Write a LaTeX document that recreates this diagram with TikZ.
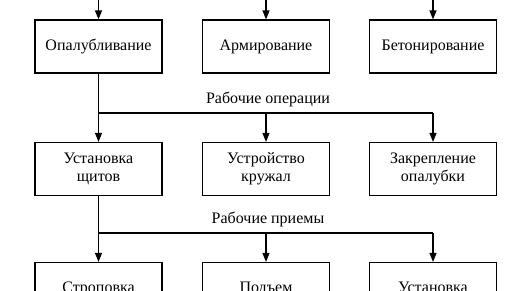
\documentclass[tikz,border=0pt]{standalone}
\usepackage{fontspec}
\setmainfont{Liberation Serif}
\usetikzlibrary{arrows.meta}
\begin{document}
\begin{tikzpicture}[x=1pt,y=-1pt,
  box/.style={draw, line width=1.2pt, minimum width=127pt, minimum height=53pt, align=center, inner sep=0pt, font=\fontsize{16}{18}\selectfont},
  one/.style={text height=11pt, text depth=3.5pt},
  lbl/.style={inner sep=0pt, font=\fontsize{16}{18}\selectfont},
  arr/.style={-{Triangle[length=9pt,width=7pt]}, line width=1.2pt},
  ln/.style={line width=1.2pt}]
\useasboundingbox (0,0) rectangle (516,290);
\clip (0,0) rectangle (516,290);
% row 1
\node[box,one] (a1) at (98.5,46.5) {Опалубливание};
\node[box,one] (a2) at (266,46.5) {Армирование};
\node[box,one] (a3) at (433,46.5) {Бетонирование};
% row 2
\node[box] (b1) at (98.5,169) {Установка\\щитов};
\node[box] (b2) at (266,169) {Устройство\\кружал};
\node[box] (b3) at (433,169) {Закрепление\\опалубки};
% row 3
\node[box,one] (c1) at (98.5,289) {Строповка};
\node[box,one] (c2) at (266,289) {Подъем};
\node[box,one] (c3) at (433,289) {Установка};
% incoming arrows
\coordinate (t1) at (98.5,-5);
\coordinate (t2) at (266,-5);
\coordinate (t3) at (433,-5);
\draw[arr] (t1) -- (a1.north);
\draw[arr] (t2) -- (a2.north);
\draw[arr] (t3) -- (a3.north);
% operations
\node[lbl] (l1) at (268,99) {Рабочие операции};
\coordinate (h1) at (98.5,113);
\coordinate (h1e) at (433,113);
\draw[arr] (a1.south) -- (b1.north);
\draw[ln] (h1) -- (h1e);
\draw[arr] (h1 -| b2.north) -- (b2.north);
\draw[arr] (h1e) -- (b3.north);
% techniques
\node[lbl] (l2) at (268,219) {Рабочие приемы};
\coordinate (h2) at (98.5,233);
\coordinate (h2e) at (433,233);
\draw[arr] (b1.south) -- (c1.north);
\draw[ln] (h2) -- (h2e);
\draw[arr] (h2 -| c2.north) -- (c2.north);
\draw[arr] (h2e) -- (c3.north);
\end{tikzpicture}
\end{document}
